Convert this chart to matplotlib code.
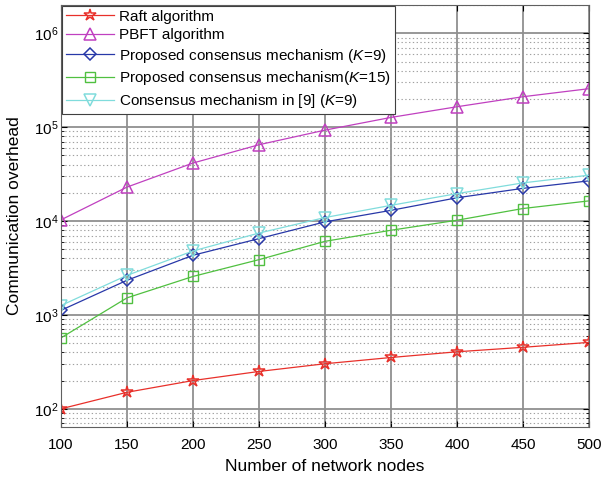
import matplotlib
matplotlib.use('Agg')
import matplotlib.pyplot as plt
from matplotlib.ticker import LogLocator, NullFormatter

plt.rcParams['font.family'] = ['Liberation Sans', 'DejaVu Sans']
plt.rcParams['mathtext.fontset'] = 'custom'
plt.rcParams['mathtext.rm'] = 'Liberation Sans'
plt.rcParams['mathtext.it'] = 'Liberation Sans:italic'

# data
nodes = [100, 150, 200, 250, 300, 350, 400, 450, 500]
raft = [100, 150, 200, 250, 302, 352, 405, 452, 510]
pbft = [10300, 23000, 41500, 65000, 93000, 127000, 165000, 211000, 257000]
proposed_k9 = [1120, 2340, 4320, 6500, 9800, 13000, 17700, 22300, 26800]
proposed_k15 = [570, 1520, 2570, 3880, 6080, 7980, 10200, 13600, 16400]
ref9_k9 = [1260, 2640, 4800, 7450, 10900, 14700, 19600, 25500, 30800]

labels = ['Raft algorithm',
          'PBFT algorithm',
          'Proposed consensus mechanism ($\\mathit{K}$=9)',
          'Proposed consensus mechanism($\\mathit{K}$=15)',
          'Consensus mechanism in [9] ($\\mathit{K}$=9)']

fig = plt.figure(figsize=(6.06, 4.82), dpi=100)
ax = fig.add_axes([0.1007, 0.1141, 0.8713, 0.8755])

ax.plot(nodes, raft, color='#e8302a', lw=0.9, marker='*', ms=9, mfc='none', mew=1.1, label=labels[0])
ax.plot(nodes, pbft, color='#c040c0', lw=0.9, marker='^', ms=9, mfc='none', mew=1.1, label=labels[1])
ax.plot(nodes, proposed_k9, color='#2838a8', lw=0.9, marker='D', ms=6.5, mfc='none', mew=1.1, label=labels[2])
ax.plot(nodes, proposed_k15, color='#50c040', lw=0.9, marker='s', ms=6.5, mfc='none', mew=1.0, label=labels[3])
ax.plot(nodes, ref9_k9, color='#80dcdc', lw=0.9, marker='v', ms=9, mfc='none', mew=1.1, label=labels[4])

ax.set_yscale('log')
ax.set_xlim(100, 500)
ax.set_ylim(64, 2e6)
ax.set_xticks(nodes)
ax.yaxis.set_major_locator(LogLocator(base=10, numticks=10))
ax.yaxis.set_minor_locator(LogLocator(base=10, subs=range(2, 10), numticks=20))
ax.yaxis.set_minor_formatter(NullFormatter())

ax.grid(True, which='major', axis='both', color='#909090', lw=1.3, ls='-')
ax.grid(True, which='minor', axis='y', color='#a0a0a0', lw=0.8, ls=(0, (1.2, 2.2)))
ax.set_axisbelow(True)

ax.tick_params(which='both', direction='in', labelsize=11, top=True, right=True)
ax.tick_params(which='major', length=4)
ax.tick_params(which='minor', length=2)
ax.tick_params(axis='x', pad=8)
ax.tick_params(axis='y', pad=2)
for s in ax.spines.values():
    s.set_color('#606060')
    s.set_linewidth(0.8)

ax.set_xlabel('Number of network nodes', fontsize=12.5, labelpad=5)
ax.set_ylabel('Communication overhead', fontsize=12.5)
ax.yaxis.set_label_coords(-0.073, 0.5)

leg = ax.legend(loc='upper left', fontsize=11, handlelength=3.2, handletextpad=0.3,
                labelspacing=0.3, borderpad=0.25, borderaxespad=0.05,
                fancybox=False, framealpha=1, edgecolor='#404040')
leg.get_frame().set_linewidth(0.8)

fig.savefig('out.png', dpi=100)
